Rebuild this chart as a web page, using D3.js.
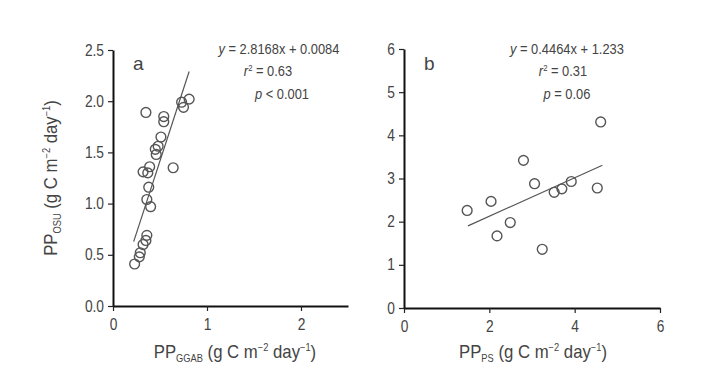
<!DOCTYPE html>
<html lang="en">
<head>
<meta charset="UTF-8">
<title>PP comparisons</title>
<script src="https://d3js.org/d3.v7.min.js"></script>
<style>
  body { margin: 0; background: #fff; }
  svg text { font-family: "Liberation Sans Narrow", "Arial Narrow", "Liberation Sans", Arial, sans-serif; fill: #444; }
  /* no narrow face installed, so squeeze the text a bit */
  .narrow { transform-box: fill-box; transform: scaleX(0.86); transform-origin: center; }
  .narrow-end { transform-box: fill-box; transform: scaleX(0.86); transform-origin: right; }
  .narrow-v { transform-box: fill-box; transform: scaleX(0.93); transform-origin: center; }
</style>
</head>
<body>
<div id="chart"></div>
<script>
// panel a: PP_GGAB vs PP_OSU
const ggabX = [0.23, 0.28, 0.29, 0.32, 0.35, 0.36, 0.40, 0.36, 0.38, 0.32, 0.37, 0.39, 0.46, 0.45, 0.48, 0.51, 0.54, 0.54, 0.35, 0.64, 0.73, 0.75, 0.81];
const osuY  = [0.41, 0.48, 0.52, 0.60, 0.64, 0.69, 0.97, 1.04, 1.16, 1.31, 1.30, 1.36, 1.48, 1.53, 1.56, 1.65, 1.80, 1.85, 1.89, 1.35, 1.99, 1.94, 2.02];
// panel b: PP_PS vs PP_OSU
const psX   = [1.48, 2.04, 2.18, 2.49, 2.80, 3.06, 3.24, 3.52, 3.70, 3.92, 4.53, 4.61];
const osuY2 = [2.26, 2.47, 1.67, 1.98, 3.42, 2.88, 1.36, 2.68, 2.76, 2.93, 2.78, 4.31];

const fitA = { slope: 2.8168, intercept: 0.0084, x0: 0.22, x1: 0.81 };
const fitB = { slope: 0.4464, intercept: 1.233, x0: 1.5, x1: 4.65 };

const xTicksA = [0, 1, 2], yTicksA = [0, 0.5, 1, 1.5, 2, 2.5];
const xTicksB = [0, 2, 4, 6], yTicksB = [0, 1, 2, 3, 4, 5, 6];

const svg = d3.select("#chart").append("svg")
  .attr("width", 709).attr("height", 375);

// "PP_sub (g C m-2 day-1)" built from tspans
function unitTitle(t, sub) {
  t.append("tspan").text("PP");
  t.append("tspan").attr("dy", 4).style("font-size", "10px").text(sub);
  t.append("tspan").attr("dy", -4).text(" (g C m");
  t.append("tspan").attr("dy", -7).style("font-size", "10px").text("\u22122");
  t.append("tspan").attr("dy", 7).text(" day");
  t.append("tspan").attr("dy", -7).style("font-size", "10px").text("\u22121");
  t.append("tspan").attr("dy", 7).text(")");
}

function panel(cfg) {
  const x = d3.scaleLinear().domain(cfg.xDomain).range([cfg.left, cfg.right]);
  const y = d3.scaleLinear().domain(cfg.yDomain).range([cfg.bottom, cfg.top]);
  const g = svg.append("g");

  const xAxis = g.append("g")
    .attr("transform", `translate(0,${cfg.bottom})`)
    .call(d3.axisBottom(x).tickValues(cfg.xTicks).tickSize(5).tickSizeOuter(0).tickFormat(d3.format("d")));
  const yAxis = g.append("g")
    .attr("transform", `translate(${cfg.left},0)`)
    .call(d3.axisLeft(y).tickValues(cfg.yTicks).tickSize(5).tickPadding(4).tickSizeOuter(0).tickFormat(cfg.yFormat));
  [xAxis, yAxis].forEach(a => {
    a.select(".domain").attr("stroke", "#111").attr("stroke-width", 2);
    a.selectAll(".tick line").attr("stroke", "#222").attr("stroke-width", 1.2);
    a.selectAll("text").style("font-size", "16px").attr("fill", "#444");
  });
  xAxis.selectAll("text").attr("y", 10).attr("dy", "0.9em").attr("class", "narrow");
  yAxis.selectAll("text").attr("class", "narrow-end");

  g.append("line")
    .attr("x1", x(cfg.fit.x0)).attr("y1", y(cfg.fit.slope * cfg.fit.x0 + cfg.fit.intercept))
    .attr("x2", x(cfg.fit.x1)).attr("y2", y(cfg.fit.slope * cfg.fit.x1 + cfg.fit.intercept))
    .attr("stroke", "#555").attr("stroke-width", 1.2);

  g.selectAll("circle.pt").data(cfg.xs).enter().append("circle")
    .attr("class", "pt")
    .attr("cx", d => x(d)).attr("cy", (d, i) => y(cfg.ys[i]))
    .attr("r", 4.9).attr("fill", "none").attr("stroke", "#555").attr("stroke-width", 1.4);

  g.append("text").attr("x", cfg.left + 20).attr("y", 70)
    .style("font-size", "19px").text(cfg.label);

  // equation block
  const eq = g.append("text").attr("class", "narrow").attr("x", cfg.eqX).attr("y", 54)
    .attr("text-anchor", "middle").style("font-size", "15px");
  eq.append("tspan").attr("font-style", "italic").text("y");
  eq.append("tspan").text(" = " + cfg.eq);
  const r2 = g.append("text").attr("class", "narrow").attr("x", cfg.rX).attr("y", 76)
    .attr("text-anchor", "middle").style("font-size", "15px");
  r2.append("tspan").attr("font-style", "italic").text("r");
  r2.append("tspan").attr("dy", -5).style("font-size", "9px").text("2");
  r2.append("tspan").attr("dy", 5).text(" = " + cfg.r2);
  const p = g.append("text").attr("class", "narrow").attr("x", cfg.pX).attr("y", 99)
    .attr("text-anchor", "middle").style("font-size", "15px");
  p.append("tspan").attr("font-style", "italic").text("p");
  p.append("tspan").text(cfg.p);

  // x axis title
  const xt = g.append("text").attr("class", "narrow-v").attr("x", cfg.xTitleX).attr("y", 358)
    .attr("text-anchor", "middle").style("font-size", "18px");
  unitTitle(xt, cfg.xSub);
  return { x, y };
}

panel({
  xDomain: [0, 2.5], yDomain: [0, 2.5], left: 113, right: 348, top: 50, bottom: 306,
  xTicks: xTicksA, yTicks: yTicksA, yFormat: d3.format(".1f"),
  xs: ggabX, ys: osuY, fit: fitA, label: "a",
  eq: "2.8168x + 0.0084", r2: "0.63", p: " < 0.001", eqX: 279, rX: 268, pX: 282,
  xSub: "GGAB", xTitleX: 235
});
panel({
  xDomain: [0, 6], yDomain: [0, 6], left: 404, right: 660, top: 49, bottom: 308,
  xTicks: xTicksB, yTicks: yTicksB, yFormat: d3.format("d"),
  xs: psX, ys: osuY2, fit: fitB, label: "b",
  eq: "0.4464x + 1.233", r2: "0.31", p: " = 0.06", eqX: 567, rX: 563, pX: 567,
  xSub: "PS", xTitleX: 533
});

// y axis title (panel a only)
const yt = svg.append("g").attr("transform", "translate(57,178) rotate(-90)")
  .append("text").attr("class", "narrow-v").attr("text-anchor", "middle").style("font-size", "18px");
unitTitle(yt, "OSU");
</script>
</body>
</html>
